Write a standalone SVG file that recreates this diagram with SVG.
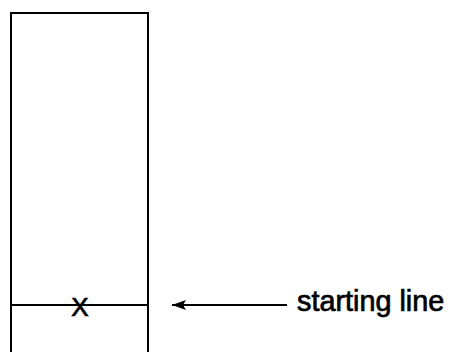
<svg xmlns="http://www.w3.org/2000/svg" width="450" height="352" viewBox="0 0 450 352">
<style>
.ln{stroke:#000;stroke-width:2;fill:none}
.txt{font-family:"Liberation Sans",Arial,sans-serif;fill:#000;stroke:#000;stroke-width:0.7}
</style>
<defs>
<marker id="ah" markerWidth="14" markerHeight="10" refX="0" refY="5" orient="auto" markerUnits="userSpaceOnUse">
<path d="M14,0 L0,5 L14,10 L11,5 Z" fill="#000"/>
</marker>
</defs>
<rect width="450" height="352" fill="#fff"/>
<g id="track">
<path class="ln" d="M11,352 V13 H148 V352"/>
<path class="ln" d="M11,305 H148" stroke-width="1.5"/>
<text class="txt" x="80" y="316" font-size="26" text-anchor="middle" stroke-width="1">X</text>
</g>
<g id="connectors">
<path class="ln" d="M172,305 H287" stroke-width="2" marker-start="url(#ah)"/>
</g>
<g id="label">
<text class="txt" x="297" y="311" font-size="28.8">starting line</text>
</g>
</svg>
